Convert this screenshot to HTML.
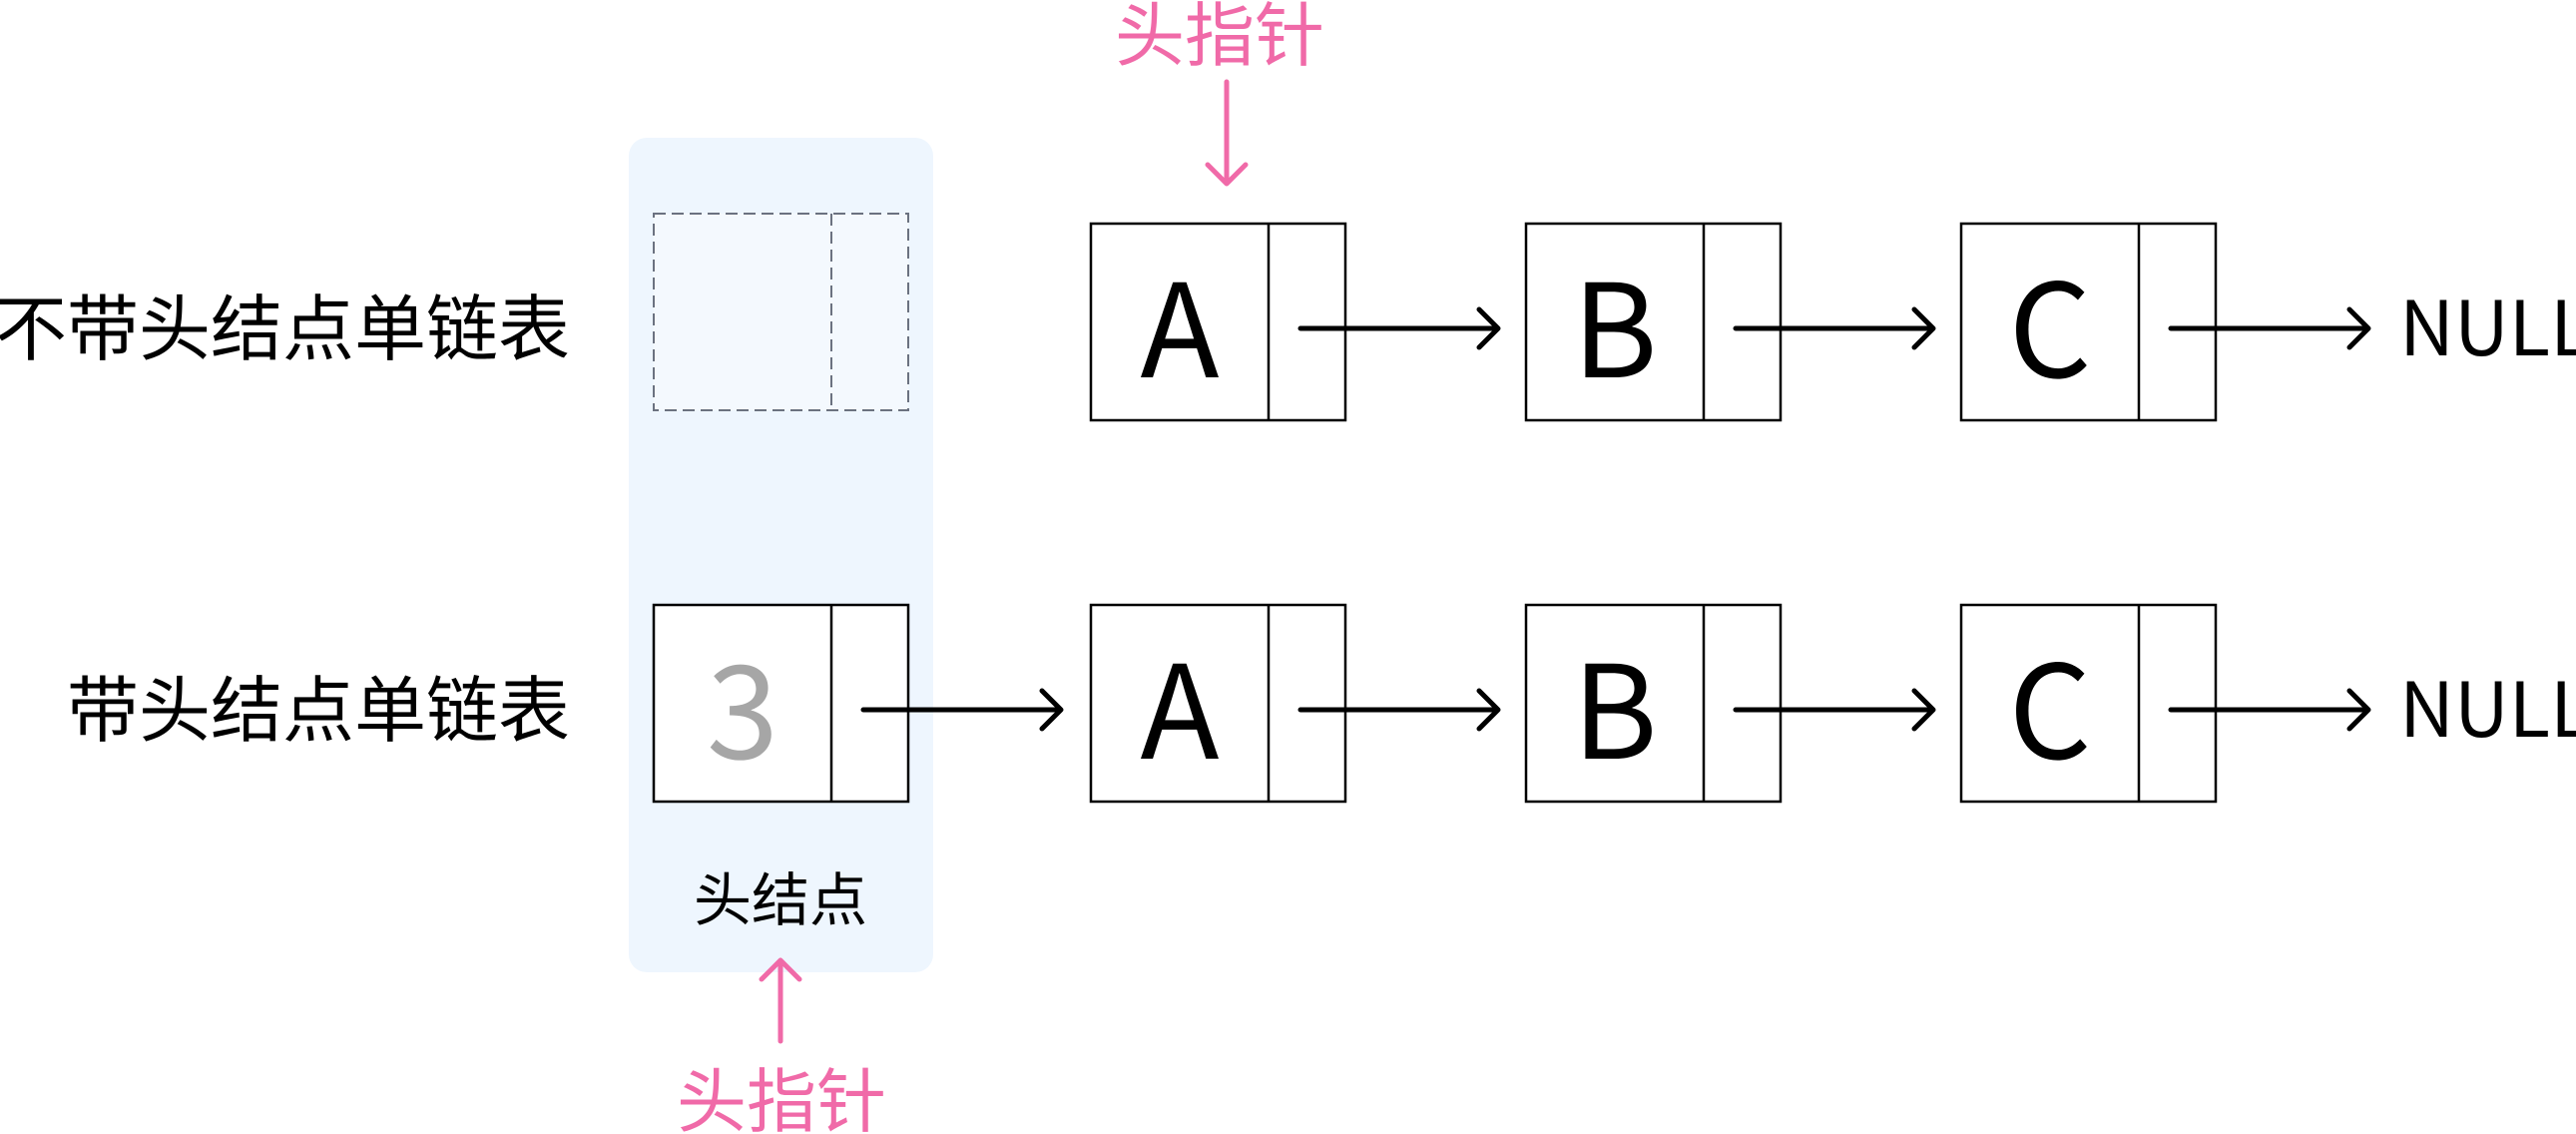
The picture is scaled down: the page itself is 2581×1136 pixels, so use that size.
<!DOCTYPE html>
<html><head><meta charset="utf-8"><style>
html,body{margin:0;padding:0;background:#fff;}
svg{display:block;}
text{font-family:"Noto Sans CJK SC","Liberation Sans",sans-serif;}
</style></head><body>
<svg width="2581" height="1136" viewBox="0 0 2581 1136" xmlns="http://www.w3.org/2000/svg">
<rect x="630" y="138" width="305" height="836" rx="18" fill="#eef6fe"/>
<rect x="655" y="214" width="255" height="197" fill="#f4f9fe" stroke="#6b7280" stroke-width="2" stroke-dasharray="12,6"/>
<line x1="833" y1="214" x2="833" y2="411" stroke="#6b7280" stroke-width="2" stroke-dasharray="12,6"/>
<g fill="#fff" stroke="#000" stroke-width="2.5">
<rect x="1093" y="224" width="255" height="197"/><line x1="1271" y1="224" x2="1271" y2="421"/>
<rect x="1529" y="224" width="255" height="197"/><line x1="1707" y1="224" x2="1707" y2="421"/>
<rect x="1965" y="224" width="255" height="197"/><line x1="2143" y1="224" x2="2143" y2="421"/>
<rect x="655" y="606" width="255" height="197"/><line x1="833" y1="606" x2="833" y2="803"/>
<rect x="1093" y="606" width="255" height="197"/><line x1="1271" y1="606" x2="1271" y2="803"/>
<rect x="1529" y="606" width="255" height="197"/><line x1="1707" y1="606" x2="1707" y2="803"/>
<rect x="1965" y="606" width="255" height="197"/><line x1="2143" y1="606" x2="2143" y2="803"/>
</g>
<g font-size="130" text-anchor="middle" fill="#000">
<text x="1182" y="378">A</text><text x="1618" y="378">B</text><text x="2054" y="378">C</text>
<text x="1182" y="760">A</text><text x="1618" y="760">B</text><text x="2054" y="760">C</text>
<text x="744" y="760" fill="#a6a6a6">3</text>
</g>
<g stroke="#000" stroke-width="5" fill="none" stroke-linecap="round" stroke-linejoin="round">
<path d="M1303 329H1500M1482 310L1501 329L1482 348"/>
<path d="M1739 329H1936M1918 310L1937 329L1918 348"/>
<path d="M2175 329H2372M2354 310L2373 329L2354 348"/>
<path d="M865 711H1062M1044 692L1063 711L1044 730"/>
<path d="M1303 711H1500M1482 692L1501 711L1482 730"/>
<path d="M1739 711H1936M1918 692L1937 711L1918 730"/>
<path d="M2175 711H2372M2354 692L2373 711L2354 730"/>
</g>
<g font-size="76" fill="#000"><text x="2404" y="356">NULL</text><text x="2404" y="738">NULL</text></g>
<g font-size="72" fill="#000" text-anchor="end">
<text x="571" y="355">不带头结点单链表</text>
<text x="571" y="737">带头结点单链表</text>
</g>
<text x="782" y="922" font-size="58" text-anchor="middle" fill="#000">头结点</text>
<g stroke="#f06aa8" stroke-width="5" fill="none" stroke-linecap="round" stroke-linejoin="round">
<path d="M1229 82V184M1210 165L1229 184L1248 165"/>
<path d="M782 1043V962M763 981L782 962L801 981"/>
</g>
<g font-size="70" fill="#f06aa8" text-anchor="middle">
<text x="1222" y="60">头指针</text>
<text x="783" y="1128">头指针</text>
</g>
</svg>
</body></html>
